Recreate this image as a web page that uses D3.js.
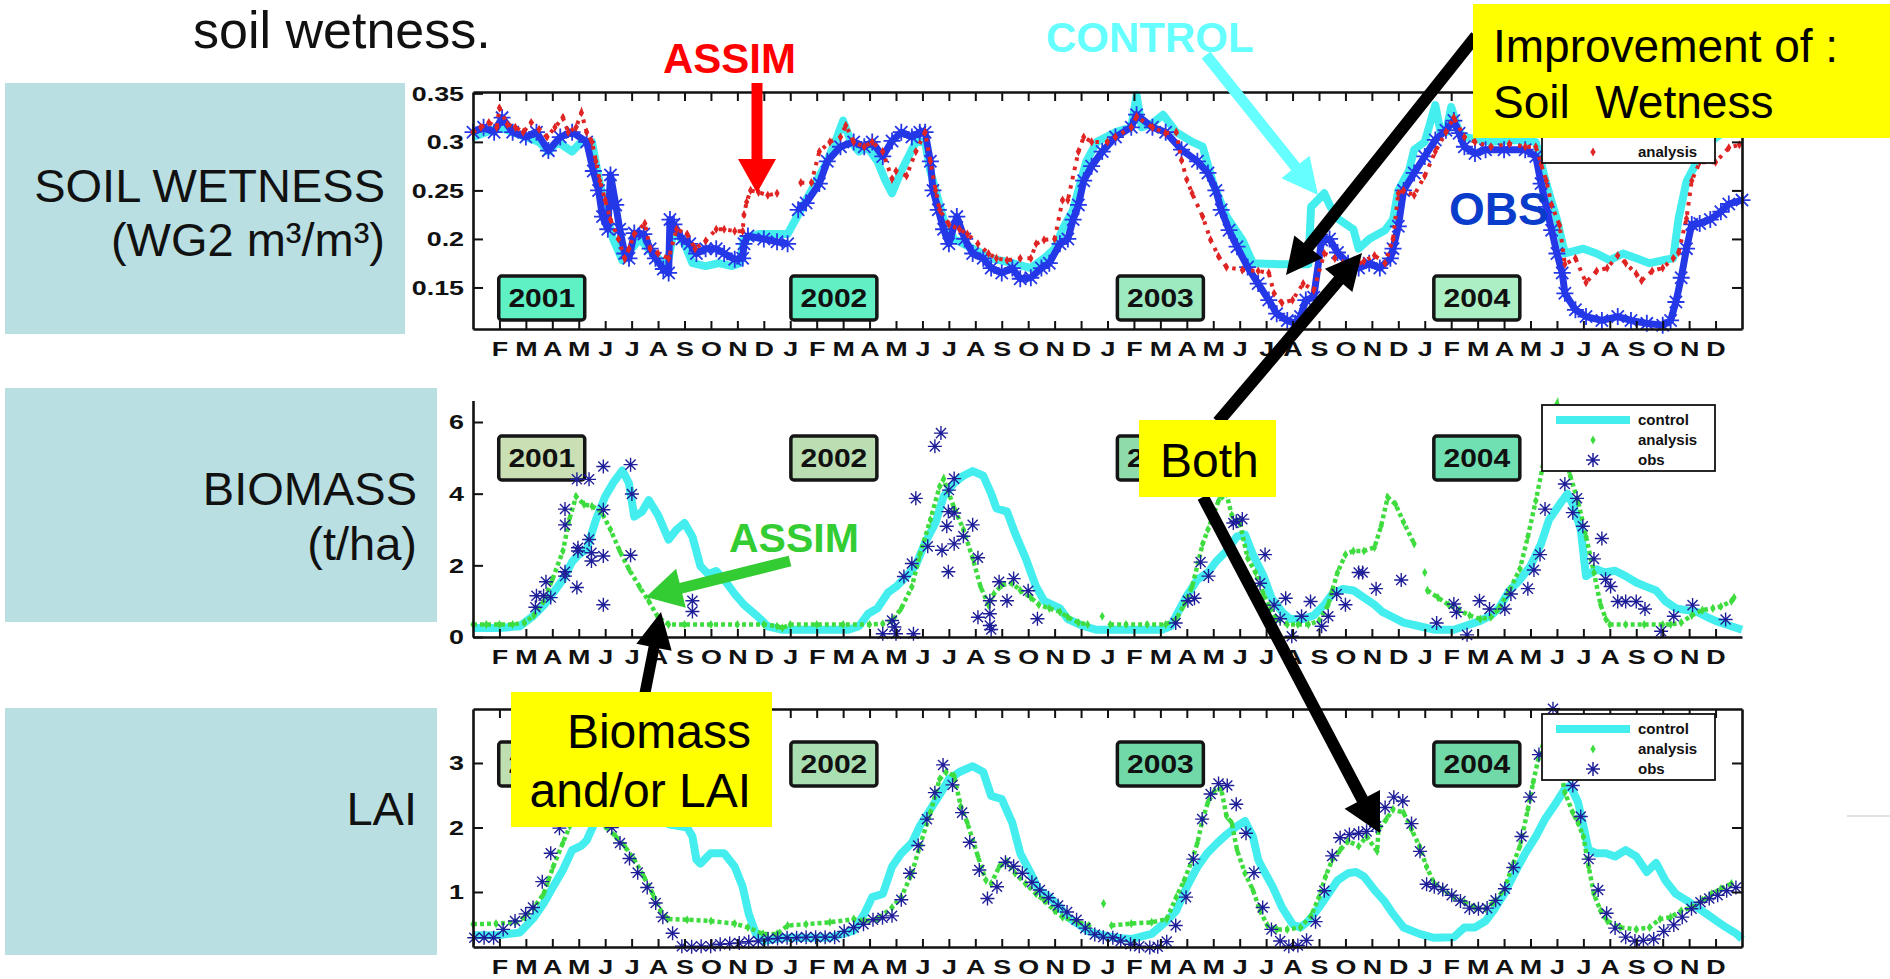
<!DOCTYPE html>
<html>
<head>
<meta charset="utf-8">
<script src="https://cdn.jsdelivr.net/npm/d3@7"></script>
<style>
  body { margin: 0; background: #fff; }
  svg { display: block; font-family: "Liberation Sans", Arial, Helvetica, sans-serif; }
</style>
</head>
<body>
<script>
// time is in months since 1 Jan 2001
var monthLetters = ["J", "F", "M", "A", "M", "J", "J", "A", "S", "O", "N", "D"];
var monthTicks = d3.range(1, 48);
var years = ["2001", "2002", "2003", "2004"];
var yearPos = [2.6, 13.65, 26.0, 37.97];

var soilTicks = [0.15, 0.2, 0.25, 0.3, 0.35];
var bioTicks = [0, 2, 4, 6];
var laiTicks = [1, 2, 3];

// soil wetness (WG2)
var soilControl = [[0,0.305],[0.5,0.31],[1,0.315],[1.5,0.31],[2,0.305],[2.5,0.3],[2.85,0.29],[3.2,0.3],[3.75,0.29],[4.1,0.3],[4.5,0.3],[4.7,0.27],[5,0.23],[5.3,0.2],[5.65,0.178],[6,0.19],[6.3,0.2],[6.8,0.185],[7.2,0.175],[7.4,0.18],[7.6,0.21],[8,0.195],[8.3,0.175],[8.8,0.172],[9.3,0.175],[9.8,0.172],[10.1,0.175],[10.25,0.2],[10.8,0.205],[11.4,0.205],[11.9,0.205],[12.2,0.22],[12.6,0.24],[13,0.26],[13.4,0.28],[13.7,0.3],[14,0.322],[14.3,0.3],[14.6,0.29],[14.9,0.295],[15.3,0.28],[15.6,0.26],[15.85,0.247],[16.2,0.27],[16.75,0.3],[17.1,0.3],[17.3,0.27],[17.8,0.22],[18.2,0.2],[18.9,0.19],[19.6,0.18],[20.4,0.175],[21.1,0.17],[21.6,0.18],[22,0.19],[22.3,0.21],[22.7,0.23],[22.9,0.25],[23.2,0.28],[23.6,0.3],[24.3,0.31],[24.9,0.315],[25.1,0.348],[25.3,0.315],[25.7,0.319],[26.1,0.328],[26.6,0.31],[27.2,0.3],[27.6,0.295],[28,0.257],[28.5,0.223],[29.1,0.199],[29.5,0.175],[30.5,0.174],[31.6,0.174],[31.7,0.233],[32.2,0.247],[32.4,0.235],[32.7,0.221],[33.3,0.21],[33.5,0.19],[33.9,0.2],[34.5,0.209],[34.8,0.22],[35,0.25],[35.4,0.27],[35.6,0.292],[36,0.3],[36.4,0.338],[36.6,0.31],[36.8,0.31],[37,0.336],[37.3,0.31],[37.5,0.305],[38.5,0.3],[39.5,0.302],[40.2,0.3],[40.6,0.257],[41,0.22],[41.3,0.185],[42,0.19],[42.5,0.185],[43,0.178],[43.5,0.185],[44,0.18],[44.5,0.175],[45,0.178],[45.4,0.18],[45.6,0.221],[45.9,0.259],[46.3,0.28],[46.7,0.298],[47.3,0.31],[48,0.315]];
var soilAnalysis = [[0,0.31],[0.3,0.315],[0.6,0.32],[0.9,0.315],[1,0.335],[1.3,0.318],[1.6,0.315],[1.9,0.31],[2.2,0.32],[2.5,0.313],[2.8,0.305],[3.1,0.315],[3.4,0.325],[3.6,0.31],[3.9,0.315],[4.1,0.33],[4.3,0.31],[4.5,0.3],[4.65,0.28],[4.8,0.26],[5,0.24],[5.2,0.22],[5.5,0.2],[5.74,0.18],[5.9,0.19],[6.1,0.205],[6.5,0.216],[6.7,0.19],[7,0.185],[7.4,0.18],[7.7,0.21],[8.1,0.205],[8.4,0.19],[8.8,0.198],[9.2,0.21],[9.5,0.21],[9.9,0.208],[10.2,0.208],[10.25,0.225],[10.35,0.238],[10.5,0.25],[10.8,0.248],[11.15,0.245],[11.5,0.247],[11.9,null],[12.4,0.258],[12.8,0.258],[13.1,0.29],[13.5,0.3],[13.9,0.305],[14.1,0.317],[14.4,0.3],[14.8,0.295],[15.1,0.3],[15.5,0.29],[15.85,0.262],[16,0.27],[16.4,0.265],[16.75,0.29],[17.1,0.31],[17.3,0.28],[17.5,0.25],[17.65,0.23],[18,0.215],[18.4,0.21],[18.7,0.205],[19.1,0.195],[19.5,0.185],[19.8,0.18],[20.2,0.178],[20.7,0.18],[21.1,0.18],[21.3,0.195],[21.6,0.199],[22,0.2],[22.3,0.24],[22.5,0.24],[22.9,0.29],[23.1,0.305],[23.4,0.3],[24,0.3],[24.3,0.305],[24.9,0.315],[25.1,0.326],[25.7,0.315],[26.2,0.309],[26.6,0.31],[26.8,0.281],[27,0.261],[27.2,0.247],[27.6,0.223],[27.9,0.199],[28.2,0.182],[28.5,0.171],[29.1,0.168],[29.7,0.167],[30.1,0.165],[30.3,0.144],[30.6,0.134],[31,0.137],[31.4,0.154],[31.8,0.147],[32.2,0.185],[32.6,0.18],[32.9,0.175],[33.3,0.172],[33.7,0.177],[34.1,0.183],[34.5,0.175],[34.8,0.2],[35,0.247],[35.2,0.25],[35.6,0.245],[36,0.265],[36.4,0.29],[36.8,0.31],[37.1,0.325],[37.5,0.305],[37.9,0.3],[38.5,0.295],[39.2,0.298],[39.8,0.295],[40.2,0.295],[40.4,0.277],[40.6,0.26],[40.8,0.235],[41.1,0.214],[41.3,0.174],[41.7,0.18],[42.1,0.155],[42.5,0.167],[42.9,0.17],[43.3,0.183],[43.6,0.175],[44,0.164],[44.2,0.157],[44.6,0.167],[45,0.17],[45.4,0.18],[45.6,0.186],[45.9,0.221],[46.1,0.26],[46.4,0.279],[47,0.279],[47.5,0.294],[47.9,0.297]];
var soilObs = [[0,0.31],[0.4,0.315],[0.8,0.31],[1.1,0.325],[1.5,0.31],[2,0.305],[2.4,0.31],[2.85,0.291],[3.3,0.305],[3.75,0.31],[4.3,0.3],[4.55,0.27],[4.75,0.25],[4.9,0.223],[5.1,0.21],[5.2,0.266],[5.4,0.235],[5.55,0.21],[5.74,0.185],[5.9,0.18],[6.1,0.206],[6.46,0.205],[6.7,0.19],[6.9,0.18],[7.2,0.169],[7.4,0.165],[7.45,0.22],[7.6,0.215],[7.9,0.2],[8.2,0.195],[8.45,0.185],[8.8,0.19],[9.2,0.19],[9.5,0.185],[9.9,0.179],[10.2,0.18],[10.25,0.195],[10.4,0.203],[11,0.2],[11.5,0.197],[11.9,0.195],[12.2,null],[12.3,0.23],[12.6,0.237],[13.1,0.257],[13.4,0.28],[13.9,0.295],[14.4,0.3],[14.8,0.295],[15.1,0.3],[15.5,0.285],[15.85,0.301],[16.2,0.31],[16.6,0.305],[16.9,0.31],[17.1,0.31],[17.3,0.28],[17.4,0.25],[17.6,0.23],[17.8,0.21],[18,0.195],[18.3,0.223],[18.6,0.2],[18.9,0.185],[19.3,0.18],[19.6,0.17],[20,0.165],[20.4,0.17],[20.7,0.159],[21.1,0.16],[21.5,0.17],[21.8,0.175],[22.2,0.195],[22.5,0.2],[22.7,0.22],[22.9,0.235],[23.1,0.26],[23.4,0.275],[23.8,0.29],[24.3,0.305],[24.9,0.315],[25.1,0.328],[25.7,0.315],[26.2,0.31],[26.8,0.292],[27.4,0.28],[27.8,0.268],[28.1,0.25],[28.3,0.23],[28.6,0.209],[28.9,0.192],[29.3,0.171],[29.7,0.154],[30.1,0.137],[30.4,0.123],[30.8,0.116],[31.1,0.113],[31.3,0.12],[31.5,0.137],[31.8,0.14],[32.1,0.199],[32.4,0.2],[32.7,0.186],[33.1,0.175],[33.5,0.17],[33.9,0.175],[34.3,0.17],[34.7,0.18],[34.8,0.19],[35,0.213],[35.2,0.25],[35.6,0.268],[36,0.285],[36.4,0.302],[36.8,0.312],[37.1,0.322],[37.3,0.309],[37.5,0.295],[37.9,0.288],[38.3,0.292],[39,0.292],[39.8,0.292],[40.2,0.285],[40.4,0.257],[40.6,0.233],[40.8,0.209],[41,0.185],[41.2,0.165],[41.3,0.144],[41.7,0.127],[42.1,0.12],[42.7,0.116],[43.3,0.12],[43.8,0.116],[44.4,0.113],[45,0.111],[45.3,0.116],[45.5,0.135],[45.7,0.16],[45.9,0.19],[46.1,0.215],[46.4,0.216],[46.8,0.22],[47.2,0.228],[47.5,0.236],[48,0.24]];

// biomass (t/ha)
var bioControl = [[0,0.25],[1,0.25],[1.77,0.3],[2.3,0.6],[2.67,0.88],[3,1.2],[3.4,1.6],[3.75,2.1],[4,2.3],[4.3,2.45],[4.65,3.27],[5,3.92],[5.3,4.3],[5.65,4.65],[5.9,4.29],[6.1,3.36],[6.4,3.5],[6.65,3.82],[7,3.4],[7.4,2.72],[7.7,3],[8,3.18],[8.3,2.8],[8.6,1.98],[8.9,1.75],[9.2,1.84],[9.5,1.6],[9.9,1.2],[10.25,0.9],[10.8,0.55],[11.15,0.3],[11.7,0.2],[12.6,0.2],[13.5,0.2],[14.2,0.2],[14.6,0.3],[14.95,0.65],[15.3,0.8],[15.7,1.24],[16,1.4],[16.4,1.7],[16.75,2],[17.1,2.63],[17.5,3.2],[17.8,3.92],[18.2,4.3],[18.55,4.5],[18.9,4.63],[19.3,4.5],[19.6,4],[19.8,3.59],[20.2,3.5],[20.5,2.9],[20.9,2.21],[21.3,1.4],[21.6,1.01],[22.2,0.8],[22.5,0.5],[23.1,0.3],[23.6,0.2],[24.3,0.2],[24.9,0.2],[26.05,0.2],[26.4,0.3],[26.6,0.6],[27,1.15],[27.4,1.6],[27.8,1.8],[28.1,2.1],[28.5,2.4],[28.9,2.81],[29.2,2.86],[29.5,2.3],[29.9,1.7],[30.2,1.1],[30.6,0.7],[30.9,0.5],[31.4,0.5],[31.8,0.6],[32.2,0.9],[32.5,1.2],[32.9,1.34],[33.3,1.3],[33.7,1.1],[34.1,0.9],[34.4,0.7],[34.8,0.55],[35.2,0.4],[35.8,0.3],[36.4,0.2],[37.1,0.2],[37.5,0.3],[38.1,0.45],[38.5,0.6],[38.8,0.8],[39.2,1.29],[39.6,1.6],[40,1.98],[40.4,2.6],[40.7,3.27],[41.1,3.7],[41.4,4],[41.6,3.7],[41.9,3],[42.1,1.7],[42.5,1.89],[42.8,1.8],[43.2,1.85],[43.6,1.7],[44,1.52],[44.4,1.4],[44.75,1.3],[45.1,1],[45.5,0.8],[45.9,0.75],[46.3,0.7],[46.7,0.55],[47,0.45],[47.4,0.35],[47.8,0.25],[48,0.2]];
var bioAnalysis = [[0,0.35],[0.5,0.35],[1,0.35],[1.5,0.35],[1.95,0.4],[2.3,0.6],[2.67,1],[3,1.6],[3.4,2.4],[3.65,3.3],[3.9,3.92],[4.2,3.7],[4.5,3.65],[4.85,3.5],[5.2,3],[5.55,2.4],[5.9,1.89],[6.3,1.4],[6.65,1],[7,0.55],[7.4,0.35],[8,0.35],[9,0.35],[10,0.35],[11,0.35],[11.5,0.3],[11.7,0.25],[12,0.35],[13,0.35],[14,0.35],[15,0.35],[15.5,0.37],[15.85,0.45],[16.2,0.8],[16.6,1.4],[16.9,2.3],[17.3,3.27],[17.65,4.2],[17.8,4.41],[18.2,3.6],[18.55,3],[18.9,2.2],[19.2,1.4],[19.5,0.9],[19.7,1.2],[20,1.45],[20.4,1.5],[20.7,1.3],[21.1,1.1],[21.4,0.9],[21.8,0.8],[22.2,0.7],[22.5,0.55],[22.9,0.4],[23.25,0.35],[23.5,null],[23.8,0.58],[23.95,null],[24.1,0.35],[24.7,0.35],[25.5,0.35],[26.2,0.35],[26.6,0.5],[26.9,0.9],[27.2,1.4],[27.6,2.6],[27.8,3],[28.05,3.5],[28.2,3.8],[28.5,4],[28.7,3.4],[29,3.2],[29.3,2.2],[29.6,1.8],[29.9,1.2],[30.15,0.8],[30.4,0.5],[30.8,0.35],[31.2,0.35],[31.6,0.35],[32,0.45],[32.35,0.9],[32.5,1.3],[32.7,1.8],[33,2.3],[33.3,2.4],[33.7,2.4],[34.1,2.5],[34.35,3.1],[34.6,3.9],[34.9,3.7],[35.2,3.2],[35.6,2.6],[35.8,null],[36,1.8],[36.05,null],[36.1,1.3],[36.5,1.1],[36.9,0.9],[37.3,0.75],[37.7,0.6],[38.1,0.5],[38.5,0.55],[38.8,0.8],[39.2,1.3],[39.6,1.9],[39.9,2.8],[40.2,3.8],[40.5,4.9],[40.7,6.08],[41,6.5],[41.2,5.5],[41.5,4.5],[41.8,3.78],[42.1,2.8],[42.4,1.8],[42.65,0.9],[42.85,0.5],[43,0.35],[43.6,0.35],[44.3,0.35],[45,0.35],[45.3,0.35],[45.7,0.4],[46.1,0.6],[46.5,0.75],[46.9,0.8],[47.2,0.85],[47.6,1],[47.7,1.1]];
var bioObs = [[2.36,0.83],[2.4,1.15],[2.67,1.15],[2.76,1.54],[2.94,1.1],[3.48,1.82],[3.48,1.7],[3.48,3.57],[3.48,3.13],[3.93,4.4],[3.93,1.38],[3.97,2.49],[3.97,2.4],[4.39,2.72],[4.39,4.4],[4.48,2.35],[4.48,2.12],[4.93,4.76],[4.93,3.55],[4.93,2.26],[4.93,0.9],[5.96,4.81],[6.01,3.99],[5.96,2.28],[8.3,1.01],[8.3,0.71],[15.5,0.09],[15.85,0.46],[15.94,0.28],[16,0.09],[16.3,1.69],[16.6,2.05],[16.66,0.09],[16.75,3.87],[17.2,2.53],[17.47,5.32],[17.7,5.69],[17.74,2.42],[17.92,3.09],[17.98,3.5],[18,4.1],[17.98,1.82],[18.2,4.42],[18.2,3.46],[18.2,2.6],[18.55,2.81],[18.9,3.13],[19.1,2.21],[19.1,0.55],[19.55,1.01],[19.55,0.65],[19.55,0.32],[19.6,0.21],[19.9,1.54],[20.2,1.01],[20.45,1.63],[21,1.29],[21.35,0.51],[26.58,0.39],[27.04,1.01],[27.29,1.08],[27.52,2.09],[27.82,1.7],[28.76,3.18],[28.87,3.23],[29.1,3.29],[29.77,1.5],[29.96,2.3],[30.3,0.89],[30.53,0.51],[30.74,1.08],[30.97,0.02],[31.34,0.58],[31.68,0.99],[32.1,0.3],[32.35,0.58],[32.67,1.2],[33,0.9],[33.5,1.8],[33.65,1.8],[34.16,1.35],[35.11,1.59],[36.45,0.39],[37.1,0.92],[37.2,0.69],[37.6,0.06],[38.07,1.01],[38.45,0.78],[39.03,0.78],[39.26,1.2],[39.9,1.35],[40.13,1.87],[40.36,2.3],[40.55,3.57],[41.3,4.27],[41.6,3.47],[41.76,3.87],[41.98,3.09],[42.4,2.18],[42.7,2.75],[42.84,1.61],[43.03,1.41],[43.3,0.99],[43.6,0.99],[44,0.99],[44.33,0.78],[44.94,0.16],[45.42,0.58],[46.13,0.89],[47.38,0.49]];

// leaf area index
var laiControl = [[0,0.33],[0.9,0.33],[1.77,0.37],[2.3,0.6],[2.67,0.82],[3.03,1.08],[3.4,1.34],[3.75,1.65],[4.1,1.72],[4.3,1.8],[4.65,2.12],[5,2.44],[5.5,2.65],[6,2.75],[6.5,2.7],[7,2.4],[7.4,2.05],[8.1,2],[8.3,1.86],[8.45,1.5],[8.6,1.44],[8.99,1.6],[9.5,1.6],[9.9,1.39],[10.2,1.08],[10.43,0.66],[10.7,0.35],[10.97,0.24],[11.7,0.29],[12.6,0.29],[13.5,0.29],[14.4,0.4],[14.8,0.66],[15.1,0.92],[15.5,0.97],[15.85,1.39],[16.2,1.6],[16.6,1.76],[16.9,2.02],[17.3,2.28],[17.7,2.54],[18,2.75],[18.4,2.86],[18.9,2.95],[19.3,2.86],[19.6,2.49],[20,2.44],[20.4,2.07],[20.7,1.6],[21.1,1.29],[21.4,1.03],[21.8,0.92],[22.2,0.76],[22.5,0.61],[22.9,0.5],[23.25,0.4],[23.6,0.35],[24.3,0.29],[24.9,0.27],[25.67,0.35],[26.24,0.55],[26.6,0.71],[27,1.08],[27.4,1.39],[27.77,1.6],[28.15,1.76],[28.5,1.89],[28.9,2.02],[29.2,2.1],[29.5,1.86],[29.7,1.5],[29.9,1.34],[30.25,1.08],[30.6,0.76],[31,0.5],[31.3,0.45],[31.6,0.55],[32,0.76],[32.35,0.97],[32.7,1.18],[33.1,1.29],[33.4,1.31],[33.7,1.24],[34.1,1.03],[34.45,0.87],[34.8,0.66],[35.2,0.45],[35.8,0.35],[36.35,0.29],[37.1,0.3],[37.5,0.45],[37.9,0.45],[38.3,0.55],[38.6,0.71],[39,0.97],[39.4,1.29],[39.8,1.6],[40.2,1.86],[40.55,2.13],[40.9,2.34],[41.3,2.6],[41.5,2.65],[41.8,2.39],[42,2.02],[42.2,1.65],[42.5,1.6],[42.85,1.6],[43.2,1.55],[43.6,1.65],[44,1.55],[44.4,1.31],[44.75,1.45],[45.1,1.18],[45.5,0.97],[45.9,0.87],[46.3,0.76],[46.66,0.66],[47.04,0.55],[47.4,0.45],[47.8,0.35],[48,0.27]];
var laiAnalysis = [[0,0.5],[0.87,0.51],[1.6,0.53],[1.95,0.61],[2.3,0.76],[2.67,0.97],[2.85,1.18],[3.03,1.39],[3.4,1.76],[3.66,2.02],[4,2.3],[4.4,2.45],[4.7,2.2],[5,2.02],[5.4,1.86],[5.74,1.71],[6.1,1.5],[6.46,1.24],[6.8,0.97],[7.1,0.71],[7.36,0.58],[8.1,0.57],[9,0.55],[9.9,0.51],[10.4,0.45],[10.97,0.35],[11.5,0.35],[11.9,0.48],[12.6,0.5],[13.5,0.53],[14.4,0.58],[14.8,0.55],[15.3,0.58],[15.85,0.76],[16.2,0.92],[16.6,1.29],[16.9,1.71],[17.3,2.23],[17.65,2.75],[17.9,2.86],[18.2,2.8],[18.45,2.33],[18.7,2.07],[19.1,1.55],[19.4,1.18],[19.6,1.13],[19.9,1.39],[20.2,1.47],[20.5,1.29],[20.9,1.13],[21.3,0.97],[21.6,0.87],[22,0.71],[22.3,0.61],[22.9,0.53],[23.3,0.48],[23.5,null],[23.85,0.82],[24,null],[24.15,0.48],[24.9,0.51],[25.67,0.53],[26.24,0.58],[26.6,0.92],[26.9,1.18],[27.2,1.5],[27.4,1.76],[27.6,2.13],[27.8,2.39],[28.05,2.57],[28.3,2.6],[28.5,2.18],[28.7,2.07],[28.9,1.65],[29.2,1.29],[29.5,1.03],[29.77,0.71],[30.05,0.48],[30.4,0.42],[30.8,0.42],[31.3,0.45],[31.7,0.63],[32,0.92],[32.25,1.24],[32.5,1.5],[32.8,1.65],[33.1,1.79],[33.5,1.71],[33.8,1.86],[34.2,1.63],[34.25,1.97],[34.55,2.13],[34.8,2.28],[35.2,2.23],[35.5,1.97],[35.8,1.71],[36.07,1.39],[36.36,1.13],[36.7,1.03],[37.1,0.92],[37.5,0.84],[37.9,0.76],[38.3,0.74],[38.6,0.84],[39,1.03],[39.3,1.39],[39.6,1.71],[39.9,2.28],[40.1,2.7],[40.3,3.07],[40.55,3.38],[40.7,3.7],[41,3.2],[41.3,2.54],[41.6,2.23],[41.8,2.07],[42,1.86],[42.2,1.39],[42.4,0.97],[42.65,0.71],[42.9,0.55],[43.4,0.45],[44,0.42],[44.5,0.45],[44.9,0.58],[45.3,0.61],[45.7,0.71],[46.1,0.76],[46.5,0.87],[46.85,0.97],[47.2,1.05],[47.6,1.13]];
var laiObs = [[0.05,0.29],[0.42,0.29],[0.78,0.29],[1.14,0.42],[1.59,0.55],[1.99,0.66],[2.27,0.76],[2.62,1.16],[2.94,1.6],[3.27,1.99],[3.6,2.3],[3.95,2.55],[4.3,2.7],[4.6,2.55],[4.95,2.25],[5.25,2],[5.56,1.76],[5.92,1.52],[6.23,1.3],[6.59,1.07],[6.91,0.83],[7.18,0.61],[7.55,0.36],[7.9,0.16],[8.27,0.15],[8.63,0.16],[8.99,0.16],[9.35,0.19],[9.71,0.2],[10.07,0.21],[10.43,0.23],[10.79,0.24],[11.16,0.27],[11.52,0.28],[11.88,0.29],[12.24,0.29],[12.6,0.3],[12.96,0.3],[13.32,0.3],[13.68,0.3],[14.04,0.39],[14.4,0.45],[14.77,0.5],[15.13,0.57],[15.49,0.6],[15.85,0.63],[16.2,0.88],[16.53,1.29],[16.84,1.72],[17.17,2.13],[17.47,2.54],[17.78,2.97],[18.14,2.66],[18.5,2.23],[18.79,1.77],[19.15,1.34],[19.46,0.9],[19.82,1.08],[20.14,1.46],[20.45,1.4],[20.78,1.29],[21.14,1.15],[21.44,1.03],[21.77,0.91],[22.13,0.79],[22.47,0.69],[22.83,0.57],[23.16,0.44],[23.52,0.34],[23.84,0.3],[24.2,0.29],[24.5,0.24],[24.87,0.19],[25.2,0.16],[25.6,0.14],[25.9,0.15],[26.24,0.23],[26.58,0.48],[26.97,0.92],[27.25,1.51],[27.58,2.13],[27.9,2.52],[28.2,2.68],[28.53,2.65],[28.87,2.36],[29.24,1.91],[29.54,1.3],[29.87,0.76],[30.2,0.42],[30.53,0.24],[30.86,0.16],[31.2,0.17],[31.53,0.25],[31.87,0.54],[32.2,1.02],[32.5,1.56],[32.8,1.84],[33.15,1.89],[33.5,1.91],[33.8,1.94],[34.16,2.02],[34.5,2.31],[34.83,2.47],[35.17,2.41],[35.5,2.06],[35.82,1.63],[36.07,1.12],[36.36,1.08],[36.68,1.04],[37.02,0.95],[37.35,0.86],[37.69,0.75],[38.03,0.74],[38.36,0.75],[38.68,0.87],[39.03,1.05],[39.35,1.38],[39.66,1.86],[39.98,2.47],[40.32,3.13],[40.85,3.84],[41.6,2.65],[41.9,2.17],[42.2,1.51],[42.56,1.03],[42.88,0.67],[43.2,0.44],[43.6,0.3],[43.95,0.24],[44.27,0.25],[44.66,0.27],[45.04,0.39],[45.42,0.49],[45.74,0.61],[46.09,0.74],[46.43,0.84],[46.76,0.9],[47.08,0.95],[47.42,1.02],[47.77,1.07]];

var W = 1890, H = 979;
var svg = d3.select("body").append("svg").attr("width", W).attr("height", H);
svg.append("rect").attr("width", W).attr("height", H).attr("fill", "#fff");

var x = d3.scaleLinear().domain([0, 48]).range([473, 1742]);
var WIDE = 1.28; // the tick font of the original is a wide bold face

var panels = [
  { top: 92, bottom: 329, domain: [0.1072, 0.3514], ticks: soilTicks, frame: true,
    control: soilControl, analysis: soilAnalysis, obs: soilObs,
    anaColor: "#e02424", obsColor: "#2438e8", obsBand: true,
    label: ["SOIL WETNESS", "(WG2 m\u00b3/m\u00b3)"], labelBox: [5, 83, 400, 251], labelY: [202, 256],
    yearY: 298, yearFill: ["#5ff0c4", "#62efc3", "#9de9c0", "#acefc4"], legendTop: 97,
    legendRows: ["analysis"] },
  { top: 400.5, bottom: 637, domain: [0, 6.6], ticks: bioTicks, frame: false,
    control: bioControl, analysis: bioAnalysis, obs: bioObs,
    anaColor: "#3edc3e", obsColor: "#1e1e98", obsBand: false,
    label: ["BIOMASS", "(t/ha)"], labelBox: [5, 388, 432, 234], labelY: [505, 560],
    yearY: 458, yearFill: ["#cadfb4", "#badeb1", "#8fdcaa", "#70e0b2"], legendTop: 405,
    legendRows: ["control", "analysis", "obs"] },
  { top: 709, bottom: 947, domain: [0.147, 3.837], ticks: laiTicks, frame: true,
    control: laiControl, analysis: laiAnalysis, obs: laiObs,
    anaColor: "#3edc3e", obsColor: "#1e1e98", obsBand: false,
    label: ["LAI"], labelBox: [5, 708, 432, 247], labelY: [825],
    yearY: 764, yearFill: ["#c0dfb0", "#aadfb2", "#70d9a7", "#70d9a7"], legendTop: 714,
    legendRows: ["control", "analysis", "obs"] }
];

function starPath(r) {
  var d = r * 0.72;
  return "M" + (-r) + ",0H" + r + "M0," + (-r) + "V" + r +
    "M" + (-d) + "," + (-d) + "L" + d + "," + d + "M" + (-d) + "," + d + "L" + d + "," + (-d);
}
var diamond = d3.symbol().type(d3.symbolDiamond).size(24);

// title
svg.append("text").attr("x", 193).attr("y", 48).attr("font-size", 52).attr("fill", "#111").text("soil wetness.");

panels.forEach(function (p) {
  var y = d3.scaleLinear().domain(p.domain).range([p.bottom, p.top]);
  var g = svg.append("g");

  // label box on the left
  g.append("rect").attr("x", p.labelBox[0]).attr("y", p.labelBox[1])
    .attr("width", p.labelBox[2]).attr("height", p.labelBox[3]).attr("fill", "#b9dfe2");
  p.label.forEach(function (s, i) {
    g.append("text").attr("x", p.labelBox[0] + p.labelBox[2] - 20).attr("y", p.labelY[i])
      .attr("text-anchor", "end").attr("font-size", 47).attr("fill", "#111").text(s);
  });

  // year boxes
  years.forEach(function (yr, i) {
    var cx = x(yearPos[i]);
    g.append("rect").attr("x", cx - 43).attr("y", p.yearY - 22).attr("width", 86).attr("height", 44)
      .attr("rx", 3).attr("fill", p.yearFill[i]).attr("stroke", "#151515").attr("stroke-width", 3.5);
    g.append("text").attr("transform", "translate(" + cx + "," + (p.yearY + 9) + ") scale(1.2,1)")
      .attr("text-anchor", "middle").attr("font-size", 25).attr("font-weight", "bold")
      .attr("fill", "#111").text(yr);
  });

  var line = d3.line().defined(function (d) { return d[1] !== null; })
    .x(function (d) { return x(d[0]); }).y(function (d) { return y(d[1]); });

  // control run
  g.append("path").datum(p.control).attr("d", line).attr("fill", "none")
    .attr("stroke", "#45eeee").attr("stroke-width", 8).attr("stroke-linejoin", "round");

  var drawAnalysis = function () {
    g.append("path").datum(p.analysis).attr("d", line).attr("fill", "none")
      .attr("stroke", p.anaColor).attr("stroke-width", p.obsBand ? 4 : 4.5)
      .attr("stroke-dasharray", p.obsBand ? "3.5 6" : "4 3");
    g.selectAll(null).data(p.analysis.filter(function (d) { return d[1] !== null; })).enter()
      .append("path").attr("d", diamond).attr("fill", p.anaColor)
      .attr("transform", function (d) { return "translate(" + x(d[0]) + "," + y(d[1]) + ")"; });
  };
  var drawObs = function () {
    if (p.obsBand) {
      g.append("path").datum(p.obs).attr("d", line).attr("fill", "none")
        .attr("stroke", p.obsColor).attr("stroke-width", 7).attr("stroke-linejoin", "round");
    }
    g.selectAll(null).data(p.obs.filter(function (d) { return d[1] !== null; })).enter()
      .append("path").attr("d", starPath(p.obsBand ? 8.5 : 7)).attr("fill", "none")
      .attr("stroke", p.obsColor).attr("stroke-width", p.obsBand ? 1.8 : 1.4)
      .attr("transform", function (d) { return "translate(" + x(d[0]) + "," + y(d[1]) + ")"; });
  };
  if (p.obsBand) { drawObs(); drawAnalysis(); } else { drawAnalysis(); drawObs(); }

  // axes
  var fmtMonth = function (m) { return monthLetters[m % 12]; };
  var xb = g.append("g").attr("transform", "translate(0," + p.bottom + ")")
    .call(d3.axisBottom(x).tickValues(monthTicks).tickFormat(fmtMonth).tickSizeInner(-8).tickSizeOuter(0).tickPadding(12));
  var yl = g.append("g").attr("transform", "translate(" + x(0) + ",0)")
    .call(d3.axisLeft(y).tickValues(p.ticks).tickFormat(String).tickSizeInner(-10).tickSizeOuter(0).tickPadding(7));
  var axes = [xb, yl];
  if (p.frame) {
    axes.push(g.append("g").attr("transform", "translate(0," + p.top + ")")
      .call(d3.axisTop(x).tickValues(monthTicks).tickFormat("").tickSizeInner(-9).tickSizeOuter(0)));
    axes.push(g.append("g").attr("transform", "translate(" + x(48) + ",0)")
      .call(d3.axisRight(y).tickValues(p.ticks).tickFormat("").tickSizeInner(-10).tickSizeOuter(0)));
  }
  axes.forEach(function (a) {
    a.select(".domain").attr("stroke", "#111").attr("stroke-width", 2.6);
    a.selectAll(".tick line").attr("stroke", "#111").attr("stroke-width", 2);
    a.selectAll(".tick text").attr("fill", "#111").attr("transform", "scale(" + WIDE + ",1)")
      .style("font", "bold 21px 'Liberation Sans', Arial, sans-serif");
  });

  // legend
  var lg = g.append("g");
  var lx = 1542, lt = p.legendTop;
  lg.append("rect").attr("x", lx).attr("y", lt).attr("width", 173).attr("height", 66)
    .attr("fill", "#fff").attr("stroke", "#111").attr("stroke-width", 1.8);
  p.legendRows.forEach(function (name, i) {
    var ry = lt + 55 - (p.legendRows.length - 1 - i) * 20;
    if (name === "control") {
      lg.append("line").attr("x1", lx + 14).attr("x2", lx + 88).attr("y1", ry).attr("y2", ry)
        .attr("stroke", "#45eeee").attr("stroke-width", 8);
    } else if (name === "analysis") {
      lg.append("path").attr("d", diamond).attr("fill", p.anaColor)
        .attr("transform", "translate(" + (lx + 51) + "," + ry + ")");
    } else {
      lg.append("path").attr("d", starPath(7)).attr("fill", "none").attr("stroke", p.obsColor)
        .attr("stroke-width", 1.5).attr("transform", "translate(" + (lx + 51) + "," + ry + ")");
    }
    lg.append("text").attr("x", lx + 96).attr("y", ry + 5).attr("font-size", 15)
      .attr("font-weight", "bold").attr("fill", "#111").text(name);
  });
});

// annotations
function arrow(x1, y1, x2, y2, col, sw, hl, hw) {
  var dx = x2 - x1, dy = y2 - y1, L = Math.hypot(dx, dy), ux = dx / L, uy = dy / L, px = -uy, py = ux;
  var bx = x2 - ux * hl, by = y2 - uy * hl;
  var pts = [[x1 + px * sw / 2, y1 + py * sw / 2], [bx + px * sw / 2, by + py * sw / 2], [bx + px * hw, by + py * hw],
    [x2, y2], [bx - px * hw, by - py * hw], [bx - px * sw / 2, by - py * sw / 2], [x1 - px * sw / 2, y1 - py * sw / 2]];
  svg.append("polygon").attr("points", pts.map(function (q) { return q.join(","); }).join(" ")).attr("fill", col);
}

svg.append("text").attr("x", 663).attr("y", 73).attr("font-size", 42).attr("font-weight", "bold")
  .attr("fill", "#ff0000").text("ASSIM");
arrow(757, 83, 757, 193, "#ff0000", 11, 34, 19);

svg.append("text").attr("x", 1046).attr("y", 52).attr("font-size", 42).attr("font-weight", "bold")
  .attr("fill", "#66ffff").text("CONTROL");
arrow(1206, 55, 1318, 195, "#66ffff", 11, 36, 18);

svg.append("text").attr("x", 1449).attr("y", 225).attr("font-size", 46).attr("font-weight", "bold")
  .attr("fill", "#0a3ccc").text("OBS");

svg.append("text").attr("x", 729).attr("y", 552).attr("font-size", 41).attr("font-weight", "bold")
  .attr("fill", "#33cc33").text("ASSIM");
arrow(790, 561, 646, 597, "#33cc33", 11, 36, 20);

arrow(1476, 36, 1286, 275, "#000", 12, 36, 18);
arrow(1218, 422, 1362, 253, "#000", 12, 36, 18);
arrow(1203, 497, 1380, 833, "#000", 12, 38, 20);
arrow(644, 698, 661, 612, "#000", 11, 36, 18);

// yellow call-out boxes
svg.append("rect").attr("x", 1473).attr("y", 4).attr("width", 417).attr("height", 134).attr("fill", "#ffff00");
svg.append("text").attr("x", 1493).attr("y", 62).attr("font-size", 46).attr("fill", "#000").text("Improvement of :");
svg.append("text").attr("x", 1493).attr("y", 118).attr("font-size", 46).attr("fill", "#000")
  .attr("xml:space", "preserve").style("white-space", "pre").text("Soil  Wetness");

svg.append("rect").attr("x", 1139).attr("y", 420).attr("width", 137).attr("height", 77).attr("fill", "#ffff00");
svg.append("text").attr("x", 1160).attr("y", 477).attr("font-size", 48).attr("fill", "#000").text("Both");

svg.append("rect").attr("x", 511).attr("y", 692).attr("width", 261).attr("height", 135).attr("fill", "#ffff00");
svg.append("text").attr("x", 751).attr("y", 748).attr("text-anchor", "end").attr("font-size", 48).attr("fill", "#000").text("Biomass");
svg.append("text").attr("x", 751).attr("y", 807).attr("text-anchor", "end").attr("font-size", 48).attr("fill", "#000").text("and/or LAI");

// faint slide artefact at the right edge
svg.append("line").attr("x1", 1847).attr("x2", 1890).attr("y1", 816).attr("y2", 816)
  .attr("stroke", "#e2e2e2").attr("stroke-width", 2);
</script>
</body>
</html>
